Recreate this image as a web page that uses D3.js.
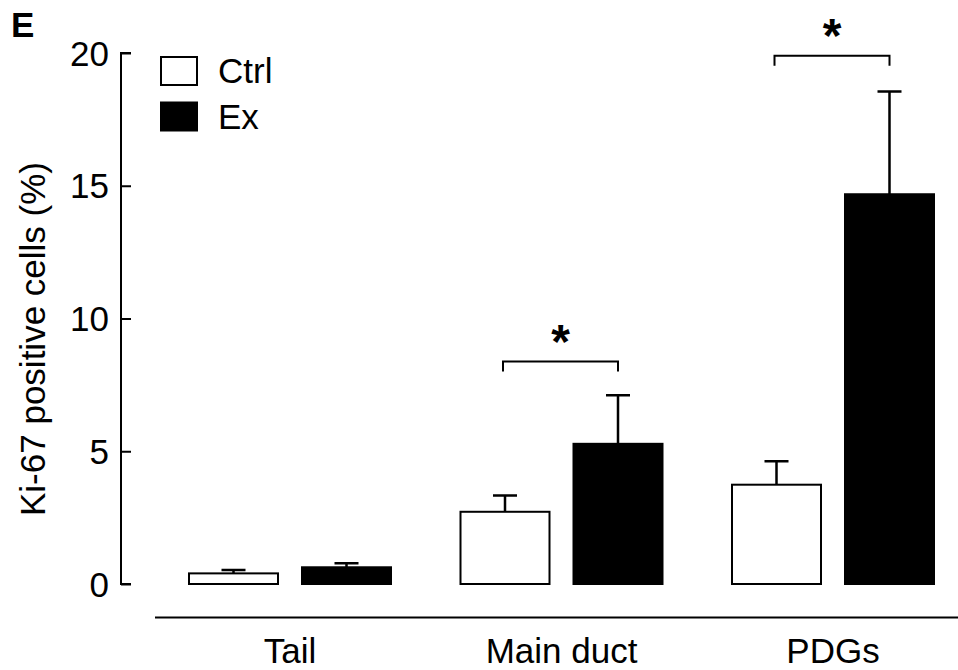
<!DOCTYPE html>
<html>
<head>
<meta charset="utf-8">
<script src="https://cdn.jsdelivr.net/npm/d3@7/dist/d3.min.js"></script>
<style>
  html, body { margin: 0; padding: 0; background: #fff; }
  svg { display: block; font-family: Arial, "Liberation Sans", Helvetica, sans-serif; }
</style>
</head>
<body>
<svg id="chart" width="958" height="670"></svg>
<script>
// ---- data ----
const categories = ["Tail", "Main duct", "PDGs"];
const seriesNames = ["Ctrl", "Ex"];
const ctrlValues = [0.40, 2.72, 3.74];
const ctrlErrors = [0.13, 0.61, 0.88];
const exValues = [0.63, 5.28, 14.68];
const exErrors = [0.15, 1.83, 3.87];
const yTicks = [0, 5, 10, 15, 20];
const sigCategories = ["Main duct", "PDGs"];
const sigHeights = [8.38, 19.9];
const sigLabels = ["*", "*"];
const panelLabel = "E";
const yLabel = "Ki-67 positive cells (%)";

const svg = d3.select("#chart");
const W = 958, H = 670;

const y = d3.scaleLinear().domain([0, 20]).range([584, 53]);
const x0 = d3.scaleBand().domain(categories).range([154.25, 968.75]).padding(0);
const step = x0.bandwidth();
const x1 = d3.scaleBand().domain(seriesNames)
  .range([step / 2 - 102, step / 2 + 102]).paddingInner(22 / 113).paddingOuter(0);

const rows = categories.map((c, i) => ({
  cat: c,
  bars: [
    { s: "Ctrl", v: ctrlValues[i], e: ctrlErrors[i] },
    { s: "Ex", v: exValues[i], e: exErrors[i] }
  ]
}));
const fill = { Ctrl: "#fff", Ex: "#000" };

// y axis
const yAxis = d3.axisRight(y).tickValues(yTicks).tickSize(10).tickFormat("");
const yg = svg.append("g").attr("transform", "translate(121,0)").call(yAxis);
yg.select(".domain").attr("stroke", "#000").attr("stroke-width", 2).attr("d", `M10,${y(20)}H0V${y(0)}H10`);
yg.selectAll(".tick line").attr("stroke", "#000").attr("stroke-width", 2);
svg.append("g").selectAll("text").data(yTicks).join("text")
  .attr("x", 109).attr("y", d => y(d)).attr("dy", "0.36em")
  .attr("text-anchor", "end").attr("font-size", 35).text(d => d);

// x axis line
svg.append("line").attr("x1", 155).attr("x2", W).attr("y1", 617.5).attr("y2", 617.5)
  .attr("stroke", "#000").attr("stroke-width", 2);
svg.append("g").selectAll("text").data(categories).join("text")
  .attr("x", d => x0(d) + step / 2).attr("y", 663)
  .attr("text-anchor", "middle").attr("font-size", 35).text(d => d);

// bars
const g = svg.append("g").selectAll("g").data(rows).join("g")
  .attr("transform", d => `translate(${x0(d.cat)},0)`);
// error bars
g.selectAll("path.err").data(d => d.bars).join("path").attr("class", "err")
  .attr("d", d => {
    const cx = x1(d.s) + x1.bandwidth() / 2;
    return `M${cx},${y(d.v)}V${y(d.v + d.e)}M${cx - 12},${y(d.v + d.e)}H${cx + 12}`;
  })
  .attr("stroke", "#000").attr("stroke-width", 2.5).attr("fill", "none");
g.selectAll("rect").data(d => d.bars).join("rect")
  .attr("x", d => x1(d.s) + 1).attr("width", x1.bandwidth() - 2)
  .attr("y", d => y(d.v)).attr("height", d => y(0) - y(d.v))
  .attr("fill", d => fill[d.s]).attr("stroke", "#000").attr("stroke-width", 2);

// significance brackets
sigCategories.forEach((c, i) => {
  const xa = x0(c) + x1("Ctrl") + x1.bandwidth() / 2 - 2;
  const xb = x0(c) + x1("Ex") + x1.bandwidth() / 2;
  const yy = y(sigHeights[i]);
  svg.append("path").attr("d", `M${xa},${yy + 10}V${yy}H${xb}V${yy + 10}`)
    .attr("stroke", "#000").attr("stroke-width", 2).attr("fill", "none");
  svg.append("text").attr("x", (xa + xb) / 2).attr("y", yy - 4)
    .attr("text-anchor", "middle").attr("font-size", 48).attr("font-weight", "bold")
    .text(sigLabels[i]);
});

// legend
const lg = svg.append("g").selectAll("g").data(seriesNames).join("g")
  .attr("transform", (d, i) => `translate(161,${57 + i * 45.5})`);
lg.append("rect").attr("width", 36).attr("height", 28)
  .attr("fill", d => fill[d]).attr("stroke", "#000").attr("stroke-width", 2);
lg.append("text").attr("x", 57).attr("y", 26).attr("font-size", 35).text(d => d);

// panel label
svg.append("text").attr("x", 11).attr("y", 37).attr("font-size", 35)
  .attr("font-weight", "bold").text(panelLabel);

// y label
svg.append("text").attr("transform", "translate(45,339) rotate(-90)")
  .attr("text-anchor", "middle").attr("font-size", 35).text(yLabel);
</script>
</body>
</html>
